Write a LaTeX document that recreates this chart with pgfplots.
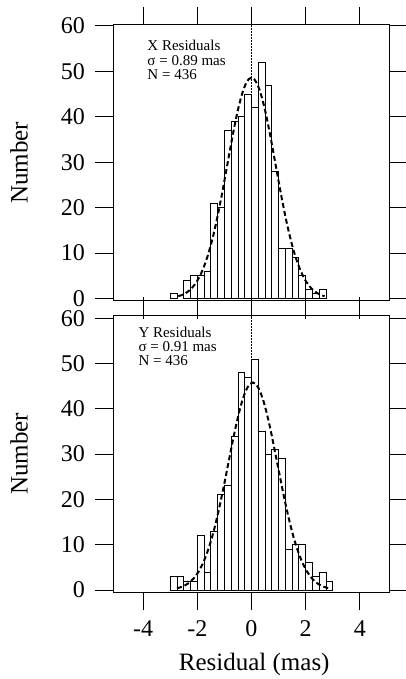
\documentclass[border=0pt]{standalone}
\usepackage{fontspec}
\setmainfont{Liberation Serif}
\usepackage{pgfplots}
\pgfplotsset{compat=1.18}

\pgfplotsset{resid/.style={
    scale only axis, width=276.3pt,
    xmin=-5.1, xmax=5.1,
    axis line style={line width=1pt},
    tick align=outside, tick pos=both,
    major tick length=18pt,
    every tick/.style={black, line width=1pt},
    xtick={-4,-2,0,2,4},
    ytick={0,10,20,30,40,50,60},
    yticklabels={0,10,20,30,40,50,60},
    tick label style={font=\fontsize{24}{24}\selectfont},
    yticklabel style={xshift=-7pt},
    xticklabel style={yshift=-7pt},
    label style={font=\fontsize{25}{25}\selectfont},
    ylabel={Number},
    ylabel style={at={(axis description cs:-0.341,0.5)}, anchor=center},
  },
  bars/.style={ybar interval, fill=white, draw=black, line width=0.8pt},
  fit/.style={black, line width=2pt, dash pattern=on 5pt off 3pt},
  zero/.style={black, line width=0.5pt, densely dotted},
}
\tikzset{note/.style={anchor=base west, inner sep=0pt,
    font=\fontsize{15}{15}\selectfont}}

\begin{document}
\begin{tikzpicture}

% X residuals
\begin{axis}[resid, at={(113.3pt,-300.7pt)}, anchor=south west,
    height=275.7pt, ymin=-0.5, ymax=60.2, xticklabels={}]
  \addplot[zero] coordinates {(0,0) (0,60.2)};
  \addplot[bars] coordinates {(-3,1) (-2.75,1)};
  \addplot[bars] coordinates {
    (-2.5,4) (-2.25,5) (-2,5) (-1.75,6) (-1.5,21) (-1.25,20) (-1,37)
    (-0.75,39) (-0.5,40) (-0.25,45) (0,42) (0.25,52) (0.5,47) (0.75,28)
    (1,11) (1.25,11) (1.5,9) (1.75,5) (2,2) (2.25,1) (2.5,2) (2.75,2)};
  \addplot[fit] coordinates {
    (-2.7,0.49) (-2.6,0.68) (-2.5,0.94) (-2.4,1.28) (-2.3,1.72) (-2.2,2.29)
    (-2.1,3.00) (-2.0,3.89) (-1.9,4.98) (-1.8,6.29) (-1.7,7.84) (-1.6,9.66)
    (-1.5,11.74) (-1.4,14.10) (-1.3,16.72) (-1.2,19.58) (-1.1,22.64)
    (-1.0,25.85) (-0.9,29.15) (-0.8,32.45) (-0.7,35.67) (-0.6,38.72)
    (-0.5,41.50) (-0.4,43.93) (-0.3,45.92) (-0.2,47.39) (-0.1,48.29)
    (0,48.60)
    (0.1,48.29) (0.2,47.39) (0.3,45.92) (0.4,43.93) (0.5,41.50) (0.6,38.72)
    (0.7,35.67) (0.8,32.45) (0.9,29.15) (1.0,25.85) (1.1,22.64) (1.2,19.58)
    (1.3,16.72) (1.4,14.10) (1.5,11.74) (1.6,9.66) (1.7,7.84) (1.8,6.29)
    (1.9,4.98) (2.0,3.89) (2.1,3.00) (2.2,2.29) (2.3,1.72) (2.4,1.28)
    (2.5,0.94) (2.6,0.68) (2.7,0.49)};
  \node[note] at (axis cs:-3.845,54.54) {X Residuals};
  \node[note] at (axis cs:-3.845,51.39) {σ = 0.89 mas};
  \node[note] at (axis cs:-3.845,48.24) {N = 436};
\end{axis}

% Y residuals
\begin{axis}[resid, at={(113.3pt,-592.3pt)}, anchor=south west,
    height=277.3pt, ymin=-0.5, ymax=60.7,
    xticklabels={-4,-2,0,2,4},
    xlabel={Residual (mas)},
    xlabel style={at={(axis description cs:0.51,-0.2827)}, anchor=base}]
  \addplot[zero] coordinates {(0,0) (0,60.7)};
  \addplot[bars] coordinates {
    (-3,3) (-2.75,3) (-2.5,2) (-2.25,2) (-2,12) (-1.75,4) (-1.5,13)
    (-1.25,21) (-1,23) (-0.75,34) (-0.5,48) (-0.25,47) (0,51) (0.25,35)
    (0.5,30) (0.75,31) (1,29) (1.25,9) (1.5,10) (1.75,10) (2,6) (2.25,3)
    (2.5,4) (2.75,2) (3,2)};
  \addplot[fit] coordinates {
    (-2.75,0.40) (-2.65,0.56) (-2.55,0.77) (-2.45,1.05) (-2.35,1.41)
    (-2.25,1.88) (-2.15,2.46) (-2.05,3.19) (-1.95,4.09) (-1.85,5.18)
    (-1.75,6.48) (-1.65,8.00) (-1.55,9.76) (-1.45,11.77) (-1.35,14.02)
    (-1.25,16.51) (-1.15,19.20) (-1.05,22.06) (-0.95,25.04) (-0.85,28.08)
    (-0.75,31.12) (-0.65,34.07) (-0.55,36.85) (-0.45,39.38) (-0.35,41.58)
    (-0.25,43.38) (-0.15,44.71) (-0.05,45.52) (0.05,45.80) (0.15,45.52)
    (0.25,44.71) (0.35,43.38) (0.45,41.58) (0.55,39.38) (0.65,36.85)
    (0.75,34.07) (0.85,31.12) (0.95,28.08) (1.05,25.04) (1.15,22.06)
    (1.25,19.20) (1.35,16.51) (1.45,14.02) (1.55,11.77) (1.65,9.76)
    (1.75,8.00) (1.85,6.48) (1.95,5.18) (2.05,4.09) (2.15,3.19)
    (2.25,2.46) (2.35,1.88) (2.45,1.41) (2.55,1.05) (2.65,0.77)
    (2.75,0.56) (2.85,0.40)};
  \node[note] at (axis cs:-4.177,55.78) {Y Residuals};
  \node[note] at (axis cs:-4.177,52.62) {σ = 0.91 mas};
  \node[note] at (axis cs:-4.177,49.46) {N = 436};
\end{axis}

\pgfresetboundingbox
\path[use as bounding box] (0pt,0pt) rectangle (406pt,-679pt);
\end{tikzpicture}
\end{document}
